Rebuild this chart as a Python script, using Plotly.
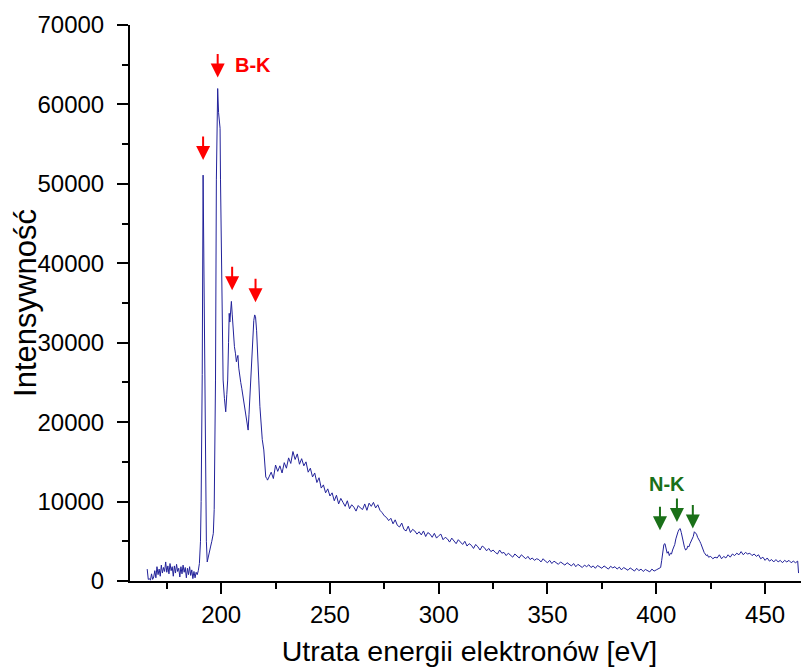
import numpy as np
import plotly.graph_objects as go

# ---------------- data ----------------
# pre-edge region, 166 eV .. 189 eV, 0.5 eV steps
pre_start, pre_step = 166.0, 0.5
pre_counts = [1500, 200, 300, 100, 900, 200, 500, 1300, 400, 1800,
              800, 1500, 600, 2000, 1000, 1700, 1200, 2400, 1100, 1900,
              900, 2200, 1300, 1800, 600, 1900, 1000, 2100, 1200, 1600,
              500, 1800, 900, 2000, 1100, 1700, 400, 1600, 800, 1800,
              700, 1400, 300, 1200, 400, 1100, 800]

# B-K edge region (non-uniform sampling)
bk_ev = [189.5, 190.0, 190.5, 190.8, 191.0, 191.3, 191.7, 192.0, 192.3, 192.8,
         193.2, 193.6, 194.2, 194.7, 195.2, 195.7, 196.1, 196.4, 196.8, 197.1,
         197.4, 197.8, 198.1, 198.4, 198.8, 199.2, 199.5, 199.7, 200.2, 200.9,
         201.5, 202.1, 202.6, 203.0, 203.4, 203.7, 204.0, 204.4, 204.7, 205.1,
         205.6, 206.1, 206.6, 207.0, 207.3, 207.7, 208.1, 208.5, 209.0, 209.5,
         210.0, 210.5, 211.2, 211.8, 212.4, 212.8, 213.2, 213.5, 214.0, 214.5,
         215.0, 215.4, 215.8, 216.3, 216.8, 217.3, 217.8, 218.3, 218.9, 219.6,
         220.1, 220.5, 221.0, 221.3]
bk_counts = [1300, 2200, 5000, 10000, 15000, 26000, 51100, 42000, 25300, 14000,
             5000, 2400, 3300, 3900, 4400, 5000, 5600, 6000, 9000, 15000,
             25300, 50500, 58000, 62000, 59000, 58000, 57000, 50500, 38000, 25300,
             23000, 21300, 23500, 25300, 30000, 33700, 32600, 34300, 35200, 33500,
             31000, 29500, 28600, 27600, 28000, 28400, 26800, 25800, 25000, 24200,
             23400, 22600, 21100, 20000, 19000, 21000, 23500, 25300, 28500, 31000,
             32800, 33500, 33300, 31500, 29000, 25300, 22000, 19500, 17800, 16500,
             14500, 13100, 12900, 12700]

# continuum 222 eV .. 401 eV, 1 eV steps
tail_start, tail_step = 222.0, 1.0
tail_counts = [13100, 13700, 12900, 14600, 13800, 14500, 13600, 14900, 14200, 15500,
               14800, 16300, 15300, 16000, 14700, 15400, 14500, 15000, 13700, 14200,
               13100, 13600, 12400, 13000, 11700, 12100, 11100, 11600, 10700, 11100,
               10100, 10800, 9700, 10400, 9900, 9400, 10100, 9100, 9600, 9300,
               8800, 9500, 9200, 9000, 9700, 8900, 9800, 9400, 9900, 9200,
               9600, 8900, 8600, 8200, 8000, 7600, 7900, 7200, 7700, 7000,
               6800, 7300, 6500, 6300, 6900, 6100, 6500, 6300, 5900, 6200,
               5800, 6300, 5600, 6100, 5900, 5500, 6000, 5400, 5700, 5900,
               5200, 5500, 5300, 4900, 5400, 5100, 4700, 5200, 4900, 4600,
               5000, 4400, 4700, 4500, 4100, 4600, 4300, 3900, 4400, 4200,
               3800, 4100, 3700, 3900, 3600, 3400, 3900, 3500, 3600, 3200,
               3500, 3300, 3000, 3400, 3100, 2900, 3300, 3000, 2800, 3100,
               2700, 2900, 2600, 2800, 2700, 2400, 2800, 2500, 2300, 2600,
               2200, 2500, 2300, 2100, 2400, 2200, 2000, 2300, 2100, 1900,
               2200, 1800, 2100, 1900, 1700, 2000, 1800, 2050, 1700, 1900,
               1600, 1950, 1750, 1600, 1900, 1700, 1500, 1850, 1650, 1800,
               1500, 1750, 1400, 1700, 1550, 1350, 1650, 1450, 1250, 1600,
               1300, 1500, 1200, 1450, 1350, 1150, 1500, 1250, 1400, 1550]

# N-K edge region 402 eV .. 424 eV, 0.5 eV steps
nk_start, nk_step = 402.0, 0.5
nk_counts = [1700, 2600, 3800, 4600, 4700, 3900, 3500, 3700, 3200, 3500,
             3400, 3900, 4300, 4600, 5300, 5900, 6200, 6500, 6600, 6100,
             5300, 4600, 4200, 3900, 4000, 4400, 4300, 4700, 5000, 5400,
             5600, 6200, 6000, 5900, 5500, 5300, 5000, 4700, 4300, 4000,
             3600, 3400, 3200, 3300, 3000]

# end of spectrum 425 eV .. 465 eV, 1 eV steps
end_start, end_step = 425.0, 1.0
end_counts = [3100, 2800, 3000, 2900, 3300, 2800, 3100, 2900, 3300, 3000,
              3400, 3200, 3500, 3300, 3700, 3300, 3600, 3400, 3500, 3200,
              3400, 3100, 3300, 2800, 3000, 2600, 2900, 2500, 2700, 2400,
              2700, 2400, 2600, 2300, 2600, 2400, 2600, 2300, 2500, 2300,
              2500]
last_ev, last_count = [465.4], [1000]

x_ticks = [200, 250, 300, 350, 400, 450]
y_ticks = [0, 10000, 20000, 30000, 40000, 50000, 60000, 70000]

# ---------------- assemble ----------------
def seg(start, step, vals):
    return list(start + step * np.arange(len(vals)))

energy = (seg(pre_start, pre_step, pre_counts) + bk_ev +
          seg(tail_start, tail_step, tail_counts) +
          seg(nk_start, nk_step, nk_counts) +
          seg(end_start, end_step, end_counts) + last_ev)
counts = pre_counts + bk_counts + tail_counts + nk_counts + end_counts + last_count

FONT = "Liberation Sans, Arial, sans-serif"
LINE = "#22229a"

fig = go.Figure()
fig.add_trace(go.Scatter(x=energy, y=counts, mode="lines",
                         line=dict(color=LINE, width=1), showlegend=False,
                         hoverinfo="skip"))

# arrows (tip position in data coords, tail offset in pixels)
red_arrows = [(191.7, 53000), (198.4, 63400), (205.05, 36600), (215.8, 35100)]
green_arrows = [(401.7, 6390), (409.5, 7430), (416.8, 6600)]
anns = []
for (ax_, ay_) in red_arrows:
    anns.append(dict(x=ax_, y=ay_, xref="x", yref="y", text="", showarrow=True,
                     ax=0, ay=-25, arrowhead=2, arrowsize=1.4, arrowwidth=2,
                     arrowcolor="#ff0000"))
for (ax_, ay_) in green_arrows:
    anns.append(dict(x=ax_, y=ay_, xref="x", yref="y", text="", showarrow=True,
                     ax=0, ay=-25, arrowhead=2, arrowsize=1.4, arrowwidth=2,
                     arrowcolor="#1a7018"))
anns.append(dict(x=214.8, y=64950, xref="x", yref="y", text="<b>B-K</b>",
                 showarrow=False, font=dict(family=FONT, size=20, color="#ff0000")))
anns.append(dict(x=404.9, y=12180, xref="x", yref="y", text="<b>N-K</b>",
                 showarrow=False, font=dict(family=FONT, size=20, color="#1a7018")))

axis_common = dict(showline=True, linecolor="black", linewidth=2,
                   ticks="outside", ticklen=11, tickwidth=2, tickcolor="black",
                   showgrid=False, zeroline=False, tickformat="d",
                   tickfont=dict(family=FONT, size=24, color="black"))

# page body has an 8px default margin, so the figure is 8px smaller and margins shifted
fig.update_layout(
    width=801, height=660,
    margin=dict(l=121.5, r=0, t=17, b=87.3),
    paper_bgcolor="white", plot_bgcolor="white",
    xaxis=dict(range=[158.1, 470.2], tickvals=x_ticks,
               title=dict(text="Utrata energii elektronów [eV]",
                          font=dict(family=FONT, size=28.5, color="black"), standoff=14),
               minor=dict(ticks="outside", ticklen=6, tickwidth=2, dtick=25,
                          tick0=175, tickcolor="black"),
               **axis_common),
    yaxis=dict(range=[0, 70000], tickvals=y_ticks, ticklabelstandoff=8,
               title=dict(text="Intensywność",
                          font=dict(family=FONT, size=31, color="black"), standoff=8),
               minor=dict(ticks="outside", ticklen=6, tickwidth=2, dtick=5000,
                          tick0=0, tickcolor="black"),
               **axis_common),
    annotations=anns,
)

fig.write_html("out.html")
